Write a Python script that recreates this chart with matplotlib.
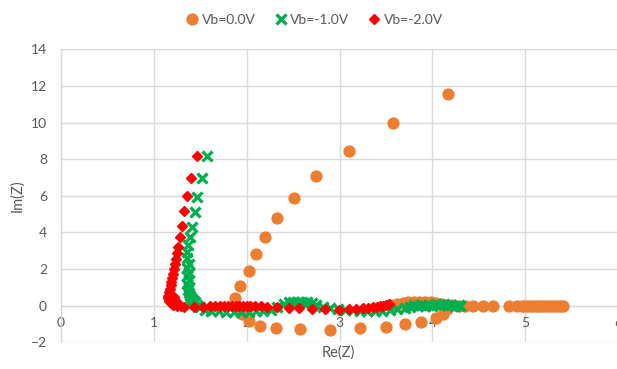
import matplotlib
matplotlib.use("Agg")
import matplotlib.pyplot as plt

plt.rcParams['font.family'] = ['Lato', 'DejaVu Sans']

# ---- data ----
vb0_x = [4.17, 3.57, 3.10, 2.75, 2.51, 2.33, 2.20, 2.10, 2.02, 1.93, 1.87,
         1.95, 2.02, 2.14, 2.32, 2.57, 2.90, 3.22, 3.50, 3.70, 3.88, 4.04, 4.11, 4.16,
         3.55, 3.62, 3.68, 3.74, 3.80, 3.86, 3.92, 3.98, 4.04, 4.10, 4.16, 4.22, 4.28,
         4.35, 4.44, 4.54, 4.65, 4.82, 4.91, 4.96, 4.99, 5.02, 5.05, 5.08, 5.11, 5.14,
         5.17, 5.20, 5.23, 5.26, 5.29, 5.32, 5.35, 5.38, 5.40]
vb0_y = [11.56, 9.96, 8.46, 7.08, 5.86, 4.79, 3.75, 2.80, 1.91, 1.07, 0.40,
         -0.45, -0.85, -1.12, -1.21, -1.30, -1.35, -1.24, -1.15, -1.02, -0.88, -0.69, -0.45, -0.20,
         0.05, 0.10, 0.14, 0.17, 0.19, 0.20, 0.20, 0.18, 0.15, 0.10, 0.06, 0.02, 0.00,
         -0.02, -0.02, -0.02, -0.02, -0.02, -0.02, -0.02, -0.02, -0.02, -0.02, -0.02, -0.02, -0.02,
         -0.02, -0.02, -0.02, -0.02, -0.02, -0.02, -0.02, -0.02, -0.02]

vb1_x = [1.57, 1.52, 1.47, 1.44, 1.41, 1.39, 1.37, 1.36, 1.36, 1.38, 1.36, 1.38, 1.36, 1.38,
         1.36, 1.38, 1.37, 1.38, 1.39, 1.40, 1.42, 1.44, 1.47, 1.50,
         1.55, 1.62, 1.70, 1.78, 1.86, 1.94, 2.02, 2.10, 2.18, 2.26, 2.33,
         2.40, 2.45, 2.50, 2.55, 2.60, 2.65, 2.70, 2.75, 2.82,
         2.90, 2.98, 3.06, 3.14, 3.22, 3.30, 3.38, 3.46, 3.54, 3.62, 3.70,
         3.76, 3.80, 3.84, 3.88, 3.92, 3.96, 4.00, 4.04, 4.08, 4.12, 4.16, 4.20, 4.24, 4.28, 4.30]
vb1_y = [8.17, 6.96, 5.95, 5.13, 4.31, 3.77, 3.31, 2.95, 2.60, 2.30, 2.05, 1.80, 1.60, 1.40,
         1.20, 1.00, 0.85, 0.70, 0.55, 0.42, 0.30, 0.18, 0.06, -0.08,
         -0.22, -0.28, -0.32, -0.34, -0.35, -0.35, -0.34, -0.32, -0.28, -0.22, -0.10,
         0.10, 0.20, 0.22, 0.22, 0.20, 0.18, 0.12, 0.05, -0.05,
         -0.12, -0.18, -0.22, -0.25, -0.27, -0.28, -0.28, -0.27, -0.25, -0.20, -0.12,
         -0.05, 0.02, -0.04, 0.05, -0.02, 0.06, 0.00, 0.07, 0.01, 0.08, 0.02, 0.06, 0.00, 0.04, 0.00]

vb2_x = [1.46, 1.40, 1.36, 1.33, 1.30, 1.28, 1.26, 1.25, 1.24, 1.23, 1.22, 1.21, 1.20, 1.19,
         1.18, 1.17, 1.16, 1.15, 1.15, 1.16, 1.18, 1.21, 1.25, 1.29, 1.22, 1.24,
         1.33, 1.43, 1.53, 1.60, 1.66, 1.71, 1.76, 1.80, 1.84, 1.88, 1.92, 1.96, 2.00,
         2.04, 2.09, 2.15, 2.22, 2.33, 2.45, 2.56, 2.70, 2.84, 2.99, 3.10, 3.18, 3.25,
         3.31, 3.36, 3.40, 3.44, 3.47, 3.50, 3.53]
vb2_y = [8.17, 6.96, 6.00, 5.17, 4.37, 3.73, 3.19, 2.85, 2.55, 2.25, 2.00, 1.75, 1.50, 1.30,
         1.10, 0.90, 0.72, 0.55, 0.40, 0.27, 0.15, 0.06, 0.00, -0.04, 0.45, 0.25,
         -0.06, -0.06, -0.05, -0.04, -0.03, -0.02, -0.02, -0.01, 0.00, 0.00, 0.00, -0.01, -0.01,
         -0.02, -0.03, -0.04, -0.06, -0.10, -0.12, -0.15, -0.18, -0.20, -0.22, -0.20, -0.17, -0.15,
         -0.12, -0.10, -0.07, -0.04, 0.00, 0.04, 0.08]

labels = ["Vb=0.0V", "Vb=-1.0V", "Vb=-2.0V"]
colors = ["#ED7D31", "#00B050", "#FF0000"]

x_ticks = [0, 1, 2, 3, 4, 5, 6]
y_ticks = [-2, 0, 2, 4, 6, 8, 10, 12, 14]

# ---- figure ----
fig = plt.figure(figsize=(6.17, 3.69), dpi=100)
ax = fig.add_axes([60.9 / 617, (369 - 342.2) / 369, (618.3 - 60.9) / 617, (342.2 - 49.4) / 369])

grid_c = "#D9D9D9"
text_c = "#595959"

ax.plot(vb0_x, vb0_y, linestyle="none", marker="o", markersize=7.8,
        color=colors[0], label=labels[0], zorder=3)
ax.plot(vb1_x, vb1_y, linestyle="none", marker="x", markersize=6.5, markeredgewidth=2.4,
        color=colors[1], label=labels[1], zorder=4)
ax.plot(vb2_x, vb2_y, linestyle="none", marker="D", markersize=5.5,
        color=colors[2], label=labels[2], zorder=5)

ax.set_xlim(0, 6)
ax.set_ylim(-2, 14)
ax.set_xticks(x_ticks)
ax.set_yticks(y_ticks)
ax.grid(True, color=grid_c, linewidth=1.0, zorder=0)
ax.set_axisbelow(True)

for s in ["top", "right"]:
    ax.spines[s].set_visible(False)
ax.spines["left"].set_color(grid_c)
ax.spines["left"].set_linewidth(1.0)
ax.spines["bottom"].set_position(("data", 0))
ax.spines["bottom"].set_color(grid_c)
ax.spines["bottom"].set_linewidth(1.0)

ax.tick_params(axis="both", length=0, colors=text_c, labelsize=10)
ax.tick_params(axis="x", pad=8)
ax.tick_params(axis="y", pad=10)

ax.set_xlabel("Re(Z)", fontsize=10.5, color=text_c)
ax.xaxis.set_label_coords(0.497, -0.012)
ax.set_ylabel("Im(Z)", fontsize=10.5, color=text_c)
ax.yaxis.set_label_coords(-0.066, 0.5)

leg = fig.legend(loc="upper center", bbox_to_anchor=(0.508, 0.995), ncol=3, frameon=False,
                 fontsize=10, handletextpad=0.1, columnspacing=1.2, handlelength=1.2,
                 labelcolor=text_c)

fig.savefig("out.png", dpi=100)
